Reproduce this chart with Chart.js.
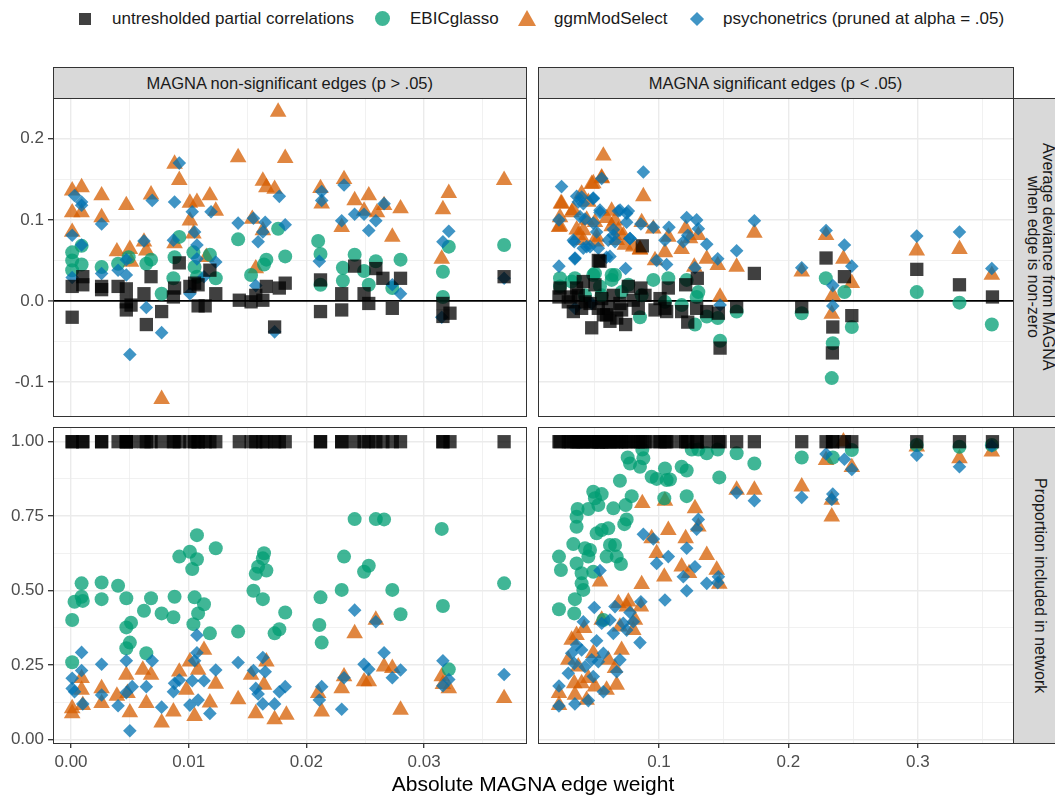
<!DOCTYPE html>
<html>
<head>
<meta charset="utf-8">
<script src="https://cdn.jsdelivr.net/npm/chart.js@4.4.1/dist/chart.umd.min.js"></script>
<style>
  body { margin:0; width:1055px; height:796px; overflow:hidden; position:relative; background:#fff;
         font-family:'Liberation Sans', Arial, sans-serif; }
  .abs { position:absolute; }
  canvas { position:absolute; }
  .strip { position:absolute; background:#d9d9d9; border:1.5px solid #333; box-sizing:border-box;
           color:#1a1a1a; font-size:16.5px; display:flex; align-items:center; justify-content:center; text-align:center; }
  .vstrip { writing-mode:vertical-rl; line-height:15px; font-size:16px; }
  .frame { position:absolute; border:1.5px solid #333; box-sizing:border-box; pointer-events:none; }
  .key { position:absolute; }
  .ltxt { position:absolute; top:9px; font-size:17px; color:#1a1a1a; white-space:nowrap; }
</style>
</head>
<body>

<!-- legend -->
<div class="key" style="left:79px;top:13px;width:12px;height:12px;background:rgba(0,0,0,0.75)"></div>
<div class="ltxt" style="left:112px">untresholded partial correlations</div>
<div class="key" style="left:375px;top:11px;width:15px;height:15px;border-radius:50%;background:rgba(0,158,115,0.75)"></div>
<div class="ltxt" style="left:410px">EBICglasso</div>
<div class="key" style="left:518px;top:10px;width:0;height:0;border-left:9.5px solid transparent;border-right:9.5px solid transparent;border-bottom:16px solid rgba(213,94,0,0.75)"></div>
<div class="ltxt" style="left:554px">ggmModSelect</div>
<div class="key" style="left:692px;top:14px;width:10px;height:10px;transform:rotate(45deg);background:rgba(0,114,178,0.75)"></div>
<div class="ltxt" style="left:723px">psychonetrics (pruned at alpha = .05)</div>

<!-- strips -->
<div class="strip" style="left:52.5px;top:67px;width:474.5px;height:32px">MAGNA non-significant edges (p &gt; .05)</div>
<div class="strip" style="left:537.5px;top:67px;width:476px;height:32px">MAGNA significant edges (p &lt; .05)</div>
<div class="strip vstrip" style="left:1012.5px;top:97.5px;width:56px;height:319px">Average deviance from MAGNA<br>when edge is non-zero</div>
<div class="strip vstrip" style="left:1012.5px;top:426.5px;width:56px;height:317.5px">Proportion included in network</div>

<canvas id="tl" width="526" height="318" style="left:0;top:98px"></canvas>
<canvas id="tr" width="475" height="318" style="left:538px;top:98px"></canvas>
<canvas id="bl" width="526" height="360" style="left:0;top:427px"></canvas>
<canvas id="br" width="475" height="360" style="left:538px;top:427px"></canvas>

<div class="frame" style="left:52.5px;top:97.5px;width:474.5px;height:319px"></div>
<div class="frame" style="left:537.5px;top:97.5px;width:476px;height:319px"></div>
<div class="frame" style="left:52.5px;top:426.5px;width:474.5px;height:317.5px"></div>
<div class="frame" style="left:537.5px;top:426.5px;width:476px;height:317.5px"></div>

<div class="abs" style="left:52px;width:962px;top:772px;text-align:center;font-size:21px;color:#000">Absolute MAGNA edge weight</div>

<script>
// ---- axis ticks ----
const nsWeightTicks = [0, 0.01, 0.02, 0.03];
const nsWeightLabels = ['0.00', '0.01', '0.02', '0.03'];
const nsWeightMinor = [0.005, 0.015, 0.025, 0.035];
const sigWeightTicks = [0.1, 0.2, 0.3];
const sigWeightLabels = ['0.1', '0.2', '0.3'];
const sigWeightMinor = [0.05, 0.15, 0.25, 0.35];
const devTicks = [-0.1, 0, 0.1, 0.2];
const devLabels = ['-0.1', '0.0', '0.1', '0.2'];
const devMinor = [-0.05, 0.05, 0.15];
const propTicks = [0, 0.25, 0.5, 0.75, 1];
const propLabels = ['0.00', '0.25', '0.50', '0.75', '1.00'];
const propMinor = [0.125, 0.375, 0.625, 0.875];

// ---- non-significant edges ----
// untresholded partial correlations (always included -> proportion 1)
const nsSqWeight = [0.0001,0.0001,0.0010,0.0010,0.0026,0.0026,0.0040,0.0047,0.0047,0.0047,0.0051,0.0062,0.0064,0.0068,0.0077,0.0087,0.0088,0.0092,0.0101,0.0105,0.0108,0.0108,0.0114,0.0118,0.0123,0.0143,0.0153,0.0157,0.0163,0.0166,0.0177,0.0173,0.0182,0.0212,0.0212,0.0230,0.0230,0.0241,0.0249,0.0253,0.0259,0.0265,0.0273,0.0280,0.0316,0.0316,0.0322,0.0368];
const nsSqDev = [-0.020,0.018,0.030,0.020,0.018,0.014,0.018,0.015,-0.001,-0.011,-0.005,0.009,-0.029,0.030,-0.013,0.005,0.016,0.047,0.018,0.022,0.020,-0.006,-0.006,0.038,0.009,0.001,-0.001,0.007,0.001,0.018,0.016,-0.032,0.022,0.026,-0.013,0.009,-0.011,0.043,0.009,-0.003,0.040,0.028,-0.009,0.028,-0.003,-0.019,-0.015,0.030];
const nsSqProp = [1,1,1,1,1,1,1,1,1,1,1,1,1,1,1,1,1,1,1,1,1,1,1,1,1,1,1,1,1,1,1,1,1,1,1,1,1,1,1,1,1,1,1,1,1,1,1,1];

const nsDevEBIC = [[0.0001,0.060],[0.0001,0.050],[0.0001,0.038],[0.0009,0.068],[0.0009,0.045],[0.0026,0.042],[0.0040,0.046],[0.0049,0.054],[0.0064,0.046],[0.0068,0.051],[0.0077,0.009],[0.0087,0.028],[0.0088,0.054],[0.0092,0.079],[0.0104,0.060],[0.0105,0.042],[0.0107,0.030],[0.0118,0.057],[0.0123,0.028],[0.0142,0.076],[0.0153,0.032],[0.0164,0.045],[0.0166,0.051],[0.0176,0.089],[0.0182,0.055],[0.0210,0.074],[0.0212,0.058],[0.0212,0.020],[0.0231,0.041],[0.0231,0.025],[0.0241,0.057],[0.0249,0.037],[0.0253,0.020],[0.0259,0.049],[0.0273,0.016],[0.0280,0.051],[0.0316,0.036],[0.0316,0.005],[0.0321,0.067],[0.0368,0.069]];
const nsDevGGM = [[0.0001,0.136],[0.0009,0.140],[0.0001,0.109],[0.0009,0.109],[0.0001,0.085],[0.0026,0.130],[0.0026,0.103],[0.0047,0.118],[0.0039,0.061],[0.0050,0.064],[0.0051,0.048],[0.0062,0.073],[0.0064,0.062],[0.0068,0.131],[0.0088,0.169],[0.0092,0.149],[0.0088,0.071],[0.0101,0.121],[0.0107,0.122],[0.0118,0.130],[0.0123,0.111],[0.0101,0.099],[0.0104,0.083],[0.0115,0.054],[0.0142,0.177],[0.0157,0.040],[0.0154,0.101],[0.0163,0.148],[0.0166,0.140],[0.0173,0.138],[0.0163,0.087],[0.0176,0.233],[0.0182,0.176],[0.0212,0.139],[0.0213,0.120],[0.0232,0.150],[0.0230,0.091],[0.0241,0.124],[0.0253,0.130],[0.0249,0.111],[0.0260,0.109],[0.0266,0.118],[0.0280,0.114],[0.0273,0.079],[0.0316,0.113],[0.0321,0.133],[0.0315,0.052],[0.0368,0.149],[0.0077,-0.121]];
const nsDevPsy = [[0.0003,0.130],[0.0009,0.122],[0.0009,0.118],[0.0001,0.081],[0.0009,0.069],[0.0001,0.029],[0.0026,0.095],[0.0026,0.034],[0.0040,0.038],[0.0047,0.051],[0.0047,0.032],[0.0050,-0.066],[0.0062,0.074],[0.0064,-0.008],[0.0069,0.124],[0.0077,-0.039],[0.0088,0.122],[0.0087,0.075],[0.0092,0.170],[0.0101,0.009],[0.0103,0.110],[0.0105,0.085],[0.0107,0.069],[0.0107,0.052],[0.0113,0.030],[0.0119,0.110],[0.0123,0.048],[0.0142,0.096],[0.0155,0.102],[0.0157,0.019],[0.0159,0.073],[0.0165,0.097],[0.0163,0.085],[0.0177,0.129],[0.0182,0.094],[0.0173,-0.038],[0.0211,0.049],[0.0213,0.135],[0.0213,0.124],[0.0232,0.143],[0.0230,0.099],[0.0241,0.107],[0.0249,0.107],[0.0253,0.087],[0.0259,0.099],[0.0266,0.120],[0.0273,0.020],[0.0280,0.009],[0.0316,0.073],[0.0321,0.086],[0.0315,-0.020],[0.0368,0.028]];

const nsPropEBIC = [[0.0001,0.401],[0.0003,0.462],[0.0009,0.524],[0.0009,0.479],[0.0010,0.465],[0.0001,0.259],[0.0026,0.527],[0.0026,0.471],[0.0040,0.516],[0.0047,0.474],[0.0047,0.376],[0.0051,0.392],[0.0050,0.325],[0.0047,0.306],[0.0062,0.432],[0.0064,0.289],[0.0068,0.474],[0.0077,0.423],[0.0087,0.410],[0.0088,0.479],[0.0092,0.614],[0.0101,0.630],[0.0107,0.686],[0.0107,0.605],[0.0103,0.572],[0.0105,0.477],[0.0113,0.454],[0.0108,0.423],[0.0104,0.387],[0.0118,0.356],[0.0123,0.642],[0.0142,0.362],[0.0155,0.499],[0.0163,0.471],[0.0157,0.556],[0.0159,0.580],[0.0164,0.625],[0.0163,0.608],[0.0166,0.567],[0.0173,0.356],[0.0177,0.370],[0.0182,0.426],[0.0212,0.477],[0.0211,0.384],[0.0213,0.325],[0.0230,0.502],[0.0232,0.614],[0.0241,0.740],[0.0249,0.563],[0.0253,0.583],[0.0259,0.740],[0.0266,0.739],[0.0273,0.502],[0.0280,0.420],[0.0315,0.707],[0.0316,0.448],[0.0321,0.235],[0.0368,0.524]];
const nsPropGGM = [[0.0001,0.104],[0.0001,0.087],[0.0009,0.166],[0.0010,0.115],[0.0009,0.205],[0.0026,0.171],[0.0026,0.121],[0.0039,0.146],[0.0047,0.216],[0.0050,0.090],[0.0048,0.155],[0.0061,0.233],[0.0064,0.121],[0.0068,0.216],[0.0077,0.056],[0.0087,0.093],[0.0092,0.227],[0.0098,0.166],[0.0101,0.261],[0.0105,0.078],[0.0108,0.233],[0.0113,0.300],[0.0118,0.123],[0.0123,0.186],[0.0142,0.134],[0.0153,0.216],[0.0157,0.087],[0.0164,0.183],[0.0166,0.261],[0.0173,0.067],[0.0183,0.082],[0.0210,0.155],[0.0213,0.093],[0.0230,0.171],[0.0232,0.211],[0.0241,0.356],[0.0249,0.194],[0.0253,0.194],[0.0259,0.401],[0.0266,0.244],[0.0273,0.239],[0.0280,0.099],[0.0315,0.211],[0.0316,0.185],[0.0321,0.171],[0.0368,0.138]];
const nsPropPsy = [[0.0001,0.205],[0.0001,0.171],[0.0003,0.160],[0.0009,0.292],[0.0009,0.231],[0.0010,0.119],[0.0026,0.252],[0.0026,0.149],[0.0040,0.113],[0.0047,0.264],[0.0047,0.157],[0.0050,0.029],[0.0052,0.177],[0.0064,0.177],[0.0069,0.264],[0.0077,0.108],[0.0087,0.160],[0.0088,0.188],[0.0092,0.199],[0.0101,0.115],[0.0103,0.197],[0.0105,0.264],[0.0107,0.350],[0.0107,0.291],[0.0108,0.132],[0.0113,0.197],[0.0118,0.087],[0.0123,0.233],[0.0142,0.258],[0.0155,0.231],[0.0157,0.171],[0.0159,0.152],[0.0163,0.275],[0.0163,0.119],[0.0165,0.227],[0.0173,0.119],[0.0177,0.160],[0.0182,0.177],[0.0211,0.132],[0.0213,0.177],[0.0230,0.101],[0.0232,0.207],[0.0241,0.434],[0.0249,0.252],[0.0253,0.235],[0.0259,0.395],[0.0266,0.291],[0.0273,0.207],[0.0280,0.233],[0.0316,0.264],[0.0321,0.201],[0.0316,0.180],[0.0368,0.218]];

// ---- significant edges ----
const sigSqWeight = [0.0227,0.0235,0.0338,0.0363,0.0376,0.0415,0.0467,0.0480,0.0505,0.0544,0.0557,0.0595,0.0608,0.0647,0.0673,0.0698,0.0742,0.0763,0.0801,0.0860,0.0871,0.0969,0.1008,0.1059,0.1072,0.1175,0.1206,0.1222,0.1296,0.1369,0.1459,0.1472,0.1600,0.1737,0.2103,0.2291,0.2433,0.2343,0.2340,0.2490,0.2992,0.3322,0.3577,0.0299,0.0320,0.0402,0.0428,0.0531,0.0570,0.0621,0.0711,0.0840,0.0892,0.1046,0.1291,0.0531];
const sigSqDev = [0.005,0.016,-0.013,0.016,0.007,0.024,-0.003,-0.033,0.020,0.049,0.003,-0.017,-0.009,0.007,-0.021,-0.003,-0.029,0.018,0.001,0.016,0.068,-0.011,0.003,-0.013,0.016,-0.013,0.020,-0.026,0.028,-0.013,-0.015,-0.058,-0.007,0.034,-0.007,0.053,0.030,-0.032,-0.064,-0.018,0.039,0.020,0.005,-0.001,0.005,-0.009,-0.001,-0.009,-0.017,-0.025,-0.011,-0.009,0.007,-0.009,-0.009,0.050];
const sigSqProp = [1,1,1,1,1,1,1,1,1,1,1,1,1,1,1,1,1,1,1,1,1,1,1,1,1,1,1,1,1,1,1,1,1,1,1,1,1,1,1,1,1,1,1,1,1,1,1,1,1,1,1,1,1,1,1,1];

const sigDevEBIC = [[0.0235,0.028],[0.0235,0.018],[0.0325,0.024],[0.0350,0.028],[0.0492,0.032],[0.0544,0.018],[0.0634,0.026],[0.0660,0.032],[0.0763,0.020],[0.0866,0.007],[0.0853,-0.020],[0.0956,0.026],[0.1072,0.028],[0.1046,-0.001],[0.1175,-0.005],[0.1214,0.026],[0.1278,-0.029],[0.1304,0.011],[0.1291,0.005],[0.1369,-0.019],[0.1454,-0.021],[0.1472,-0.049],[0.1600,-0.013],[0.2103,-0.015],[0.2289,0.028],[0.2433,0.011],[0.2343,-0.052],[0.2335,-0.095],[0.2490,-0.032],[0.2992,0.011],[0.3322,-0.002],[0.3572,-0.029],[0.0557,0.007],[0.0711,0.011],[0.0428,0.007],[0.0505,0.034],[0.0634,0.032]];
const sigDevGGM = [[0.0227,0.091],[0.0235,0.103],[0.0242,0.120],[0.0325,0.109],[0.0402,0.132],[0.0415,0.087],[0.0480,0.144],[0.0570,0.179],[0.0557,0.152],[0.0454,0.122],[0.0505,0.097],[0.0518,0.073],[0.0634,0.111],[0.0660,0.099],[0.0686,0.087],[0.0737,0.069],[0.0853,0.064],[0.0879,0.129],[0.0866,0.097],[0.0956,0.089],[0.0969,0.050],[0.1046,0.060],[0.1072,0.079],[0.1175,0.064],[0.1206,0.089],[0.1240,0.077],[0.1273,0.042],[0.1304,0.081],[0.1369,0.052],[0.1454,0.044],[0.1472,0.005],[0.1600,0.042],[0.1737,0.084],[0.2103,0.036],[0.2291,0.081],[0.2425,0.052],[0.2490,0.022],[0.2343,0.007],[0.2335,-0.016],[0.2992,0.062],[0.3322,0.064],[0.3572,0.032],[0.0376,0.081],[0.0724,0.081],
  [0.0248,0.120],[0.0235,0.092],[0.0338,0.112],[0.0364,0.088],[0.0441,0.100],[0.0415,0.075],[0.0596,0.102],[0.0634,0.092],[0.0673,0.075],[0.0801,0.067],[0.0518,0.079],[0.0853,0.063],[0.0492,0.145],[0.0557,0.151]];
const sigDevPsy = [[0.0247,0.141],[0.0227,0.100],[0.0227,0.043],[0.0345,0.073],[0.0350,0.052],[0.0350,-0.009],[0.0376,0.122],[0.0402,0.128],[0.0428,0.101],[0.0415,0.065],[0.0467,0.067],[0.0480,-0.003],[0.0492,0.126],[0.0518,0.085],[0.0544,0.109],[0.0557,0.151],[0.0595,0.054],[0.0647,0.081],[0.0660,0.073],[0.0686,0.111],[0.0750,0.097],[0.0763,0.111],[0.0742,0.040],[0.0776,0.077],[0.0860,0.095],[0.0879,0.159],[0.0956,0.091],[0.0982,0.050],[0.1059,0.045],[0.1046,0.075],[0.1077,0.091],[0.1188,0.073],[0.1214,0.103],[0.1222,0.081],[0.1291,0.100],[0.1304,0.089],[0.1278,0.041],[0.1369,0.070],[0.1454,0.052],[0.1472,-0.005],[0.1600,0.062],[0.1737,0.099],[0.2103,0.041],[0.2291,0.087],[0.2433,0.069],[0.2490,0.043],[0.2343,0.019],[0.2343,-0.006],[0.2992,0.080],[0.3322,0.085],[0.3572,0.040],
  [0.0364,0.129],[0.0415,0.120],[0.0492,0.127],[0.0544,0.112],[0.0390,0.104],[0.0492,0.096],[0.0647,0.088],[0.0699,0.112],[0.0750,0.108],[0.0338,0.075],[0.0441,0.067],[0.0531,0.065],[0.0608,0.075],[0.0776,0.077],[0.0621,0.055],[0.0351,0.053]];

const sigPropEBIC = [[0.0227,0.614],[0.0242,0.569],[0.0227,0.437],[0.0345,0.423],[0.0350,0.471],[0.0363,0.748],[0.0363,0.714],[0.0371,0.774],[0.0338,0.656],[0.0363,0.591],[0.0402,0.558],[0.0402,0.524],[0.0415,0.502],[0.0428,0.642],[0.0454,0.614],[0.0454,0.774],[0.0492,0.832],[0.0505,0.810],[0.0531,0.787],[0.0557,0.824],[0.0518,0.692],[0.0557,0.703],[0.0595,0.614],[0.0621,0.653],[0.0647,0.776],[0.0660,0.653],[0.0673,0.614],[0.0706,0.589],[0.0698,0.869],[0.0732,0.723],[0.0742,0.787],[0.0750,0.739],[0.0789,0.817],[0.0758,0.947],[0.0776,0.927],[0.0853,0.916],[0.0879,0.944],[0.0871,0.974],[0.0943,0.882],[0.0982,0.875],[0.1041,0.810],[0.1046,0.910],[0.1059,0.871],[0.1085,0.873],[0.1175,0.916],[0.1214,0.903],[0.1214,0.817],[0.1253,0.974],[0.1304,0.974],[0.1369,0.961],[0.1454,0.974],[0.1466,0.880],[0.1600,0.961],[0.1737,0.927],[0.2103,0.947],[0.2343,0.947],[0.2490,0.972],[0.2992,0.989],[0.3322,0.983],[0.3572,0.989],[0.0467,0.636],[0.0492,0.563],[0.0608,0.709],[0.0570,0.401]];
const sigPropGGM = [[0.0227,0.115],[0.0227,0.155],[0.0345,0.188],[0.0363,0.350],[0.0350,0.149],[0.0422,0.373],[0.0440,0.132],[0.0454,0.205],[0.0544,0.530],[0.0557,0.401],[0.0595,0.166],[0.0608,0.267],[0.0673,0.183],[0.0686,0.457],[0.0711,0.300],[0.0763,0.462],[0.0801,0.367],[0.0698,0.378],[0.0860,0.446],[0.0871,0.793],[0.0866,0.521],[0.0943,0.675],[0.0982,0.625],[0.1041,0.546],[0.1046,0.801],[0.1072,0.703],[0.1175,0.580],[0.1206,0.675],[0.1232,0.558],[0.1278,0.776],[0.1304,0.714],[0.1369,0.619],[0.1446,0.569],[0.1466,0.522],[0.1600,0.838],[0.1737,0.838],[0.2103,0.849],[0.2291,0.938],[0.2335,0.804],[0.2335,0.748],[0.2425,1.000],[0.2490,0.914],[0.2992,0.983],[0.3322,0.944],[0.3572,0.966],[0.0325,0.334],[0.0299,0.267],[0.0376,0.244],[0.0492,0.289],[0.0660,0.239],[0.0750,0.446],[0.0814,0.401],[0.0505,0.177],[0.0402,0.188]];
const sigPropPsy = [[0.0227,0.112],[0.0227,0.179],[0.0350,0.119],[0.0454,0.130],[0.0345,0.255],[0.0363,0.317],[0.0415,0.395],[0.0428,0.244],[0.0480,0.267],[0.0492,0.211],[0.0500,0.443],[0.0518,0.331],[0.0544,0.567],[0.0557,0.390],[0.0570,0.289],[0.0570,0.160],[0.0621,0.401],[0.0647,0.356],[0.0660,0.446],[0.0673,0.227],[0.0698,0.267],[0.0724,0.390],[0.0750,0.367],[0.0776,0.426],[0.0801,0.395],[0.0853,0.325],[0.0860,0.462],[0.0879,0.689],[0.0956,0.673],[0.0982,0.591],[0.1046,0.468],[0.1072,0.614],[0.1188,0.546],[0.1214,0.499],[0.1214,0.642],[0.1278,0.580],[0.1291,0.706],[0.1304,0.739],[0.1369,0.524],[0.1459,0.546],[0.1454,0.526],[0.1600,0.829],[0.1737,0.802],[0.2103,0.813],[0.2291,0.959],[0.2343,0.824],[0.2335,0.806],[0.2433,0.941],[0.2490,0.907],[0.2992,0.955],[0.3322,0.916],[0.3572,0.986],[0.0325,0.289],[0.0299,0.222],[0.0402,0.300],[0.0531,0.261]];

// ---- drawing ----
Chart.defaults.font.family = "'Liberation Sans', Arial, sans-serif";

const colSq = 'rgba(0,0,0,0.75)';
const colEBIC = 'rgba(0,158,115,0.75)';
const colGGM = 'rgba(213,94,0,0.75)';
const colPsy = 'rgba(0,114,178,0.75)';

function pairs(arr) { return arr.map(p => ({x: p[0], y: p[1]})); }
function zip(xs, ys) { return xs.map((x, i) => ({x: x, y: ys[i]})); }

function sets(sq, ebic, ggm, psy) {
  // first dataset ends up on top
  return [
    {data: sq, pointStyle: 'rect', pointRadius: 9.4, backgroundColor: colSq},
    {data: psy, pointStyle: 'rectRot', pointRadius: 6.8, backgroundColor: colPsy},
    {data: ebic, pointStyle: 'circle', pointRadius: 7, backgroundColor: colEBIC},
    {data: ggm, pointStyle: 'triangle', pointRadius: 9.6, backgroundColor: colGGM}
  ].map(d => Object.assign(d, {pointBorderWidth: 0, borderWidth: 0, pointHoverRadius: d.pointRadius}));
}

function axis(range, major, labels, minor, showLabels, size, zeroLine) {
  const isMajor = v => major.includes(v);
  return {
    type: 'linear', min: range[0], max: range[1], bounds: 'data',
    afterBuildTicks: s => { s.ticks = major.concat(minor).sort((a, b) => a - b).map(v => ({value: v})); },
    afterFit: s => {
      if (s.isHorizontal()) s.height = size; else s.width = size;
      s.paddingTop = 0; s.paddingBottom = 0; s.paddingLeft = 0; s.paddingRight = 0;
    },
    ticks: {
      display: showLabels, autoSkip: false, maxRotation: 0, minRotation: 0,
      padding: 4, color: '#4d4d4d', font: {size: 17},
      callback: v => { const i = major.indexOf(v); return i < 0 ? '' : labels[i]; }
    },
    grid: {
      drawTicks: showLabels, tickLength: 5, tickWidth: 1.3,
      tickColor: c => isMajor(c.tick.value) ? '#333333' : 'rgba(0,0,0,0)',
      color: c => (zeroLine && c.tick.value === 0) ? '#000000' : '#ebebeb',
      lineWidth: c => (zeroLine && c.tick.value === 0) ? 1.8 : (isMajor(c.tick.value) ? 1.4 : 0.7)
    },
    border: {display: false}
  };
}

function panel(id, xAxis, yAxis, datasets) {
  new Chart(document.getElementById(id), {
    type: 'scatter',
    data: {datasets: datasets},
    options: {
      responsive: false, animation: false, events: [],
      layout: {padding: 0, autoPadding: false},
      plugins: {legend: {display: false}, tooltip: {enabled: false}},
      scales: {x: xAxis, y: yAxis}
    }
  });
}

const nsRange = [-0.00153, 0.03866];
const sigRange = [0.00649, 0.37357];
const devRange = [-0.1417, 0.2502];
const propRange = [-0.0124, 1.0494];

panel('tl',
  axis(nsRange, nsWeightTicks, nsWeightLabels, nsWeightMinor, false, 0, false),
  axis(devRange, devTicks, devLabels, devMinor, true, 53, true),
  sets(zip(nsSqWeight, nsSqDev), pairs(nsDevEBIC), pairs(nsDevGGM), pairs(nsDevPsy)));

panel('tr',
  axis(sigRange, sigWeightTicks, sigWeightLabels, sigWeightMinor, false, 0, false),
  axis(devRange, devTicks, devLabels, devMinor, false, 0, true),
  sets(zip(sigSqWeight, sigSqDev), pairs(sigDevEBIC), pairs(sigDevGGM), pairs(sigDevPsy)));

panel('bl',
  axis(nsRange, nsWeightTicks, nsWeightLabels, nsWeightMinor, true, 44, false),
  axis(propRange, propTicks, propLabels, propMinor, true, 53, false),
  sets(zip(nsSqWeight, nsSqProp), pairs(nsPropEBIC), pairs(nsPropGGM), pairs(nsPropPsy)));

panel('br',
  axis(sigRange, sigWeightTicks, sigWeightLabels, sigWeightMinor, true, 44, false),
  axis(propRange, propTicks, propLabels, propMinor, false, 0, false),
  sets(zip(sigSqWeight, sigSqProp), pairs(sigPropEBIC), pairs(sigPropGGM), pairs(sigPropPsy)));
</script>
</body>
</html>
